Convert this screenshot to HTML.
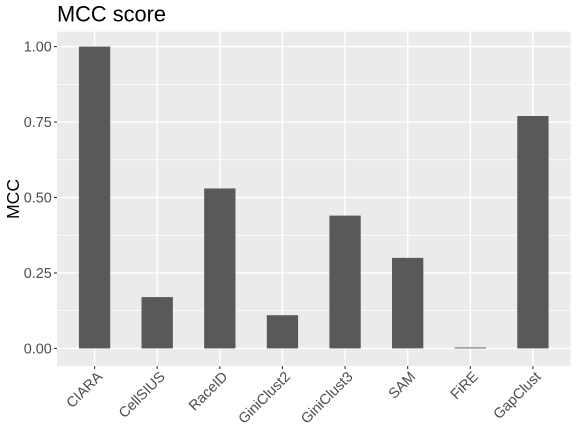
<!DOCTYPE html>
<html>
<head>
<meta charset="utf-8">
<style>
html,body{margin:0;padding:0;background:#fff;width:576px;height:432px;overflow:hidden}
svg{display:block}
text{font-family:"Liberation Sans",sans-serif}
</style>
</head>
<body>
<svg id="chart" xmlns="http://www.w3.org/2000/svg" width="576" height="432" viewBox="0 0 576 432">
  <rect x="0" y="0" width="576" height="432" fill="#fff"/>
  <text x="57" y="21.5" font-size="21.8" fill="#000">MCC score</text>
  <text transform="translate(18.8,199) rotate(-90)" text-anchor="middle" font-size="17.6" fill="#000">MCC</text>
</svg>
<script>
var categories = ["CIARA","CellSIUS","RaceID","GiniClust2","GiniClust3","SAM","FiRE","GapClust"];
var mccValues = [1.00,0.17,0.53,0.11,0.44,0.30,0.003,0.77];
var yTicks = [0,0.25,0.5,0.75,1];
var yTickLabels = ["0.00","0.25","0.50","0.75","1.00"];

var NS = "http://www.w3.org/2000/svg";
var svg = document.getElementById("chart");
var panel = {l:57, r:570.5, t:31.7, b:366};
var xUnit = (panel.r - panel.l) / 8.2;
function xScale(i){ return panel.l + (i + 0.6) * xUnit; }
function yScale(v){ return 348.4 - v * 301.8; }
function add(tag, attrs, parent){
  var el = document.createElementNS(NS, tag);
  for (var k in attrs) el.setAttribute(k, attrs[k]);
  (parent || svg).appendChild(el);
  return el;
}

var bg = add("rect", {x:panel.l, y:panel.t, width:panel.r-panel.l, height:panel.b-panel.t, fill:"#EBEBEB"});



// minor horizontal grid
for (var m = 0; m < yTicks.length - 1; m++) {
  var ym = yScale((yTicks[m] + yTicks[m+1]) / 2);
  var minor = add("line", {x1:panel.l, x2:panel.r, y1:ym, y2:ym, stroke:"#fff", "stroke-width":0.75});
  
  
}
// major horizontal grid and y ticks
yTicks.forEach(function(v, i){
  var y = yScale(v);
  var grid = add("line", {x1:panel.l, x2:panel.r, y1:y, y2:y, stroke:"#fff", "stroke-width":1.45});
  
  
  var tick = add("line", {x1:panel.l-3, x2:panel.l, y1:y, y2:y, stroke:"#333", "stroke-width":1.1});
  
  
  var label = add("text", {x:panel.l-5.2, y:y+4.9, "text-anchor":"end", "font-size":14.4, fill:"#4D4D4D"});
  
  
  label.textContent = yTickLabels[i];
});
// vertical grid, x ticks, x labels
categories.forEach(function(c, i){
  var x = xScale(i);
  var grid = add("line", {x1:x, x2:x, y1:panel.t, y2:panel.b, stroke:"#fff", "stroke-width":1.45});
  
  
  var tick = add("line", {x1:x, x2:x, y1:panel.b, y2:panel.b+3, stroke:"#333", "stroke-width":1.1});
  
  
  var label = add("text", {transform:"translate("+(x+8.6)+","+(panel.b+11.5)+") rotate(-45)", "text-anchor":"end", "font-size":14.4, fill:"#4D4D4D"});
  
  
  label.textContent = c;
});
// bars
mccValues.forEach(function(v, i){
  var w = 0.5 * xUnit;
  var y = yScale(v);
  var bar = add("rect", {x:xScale(i)-w/2, y:y, width:w, height:Math.max(yScale(0)-y, 0.6), fill:"#595959"});
  
  
});
</script>
</body>
</html>
